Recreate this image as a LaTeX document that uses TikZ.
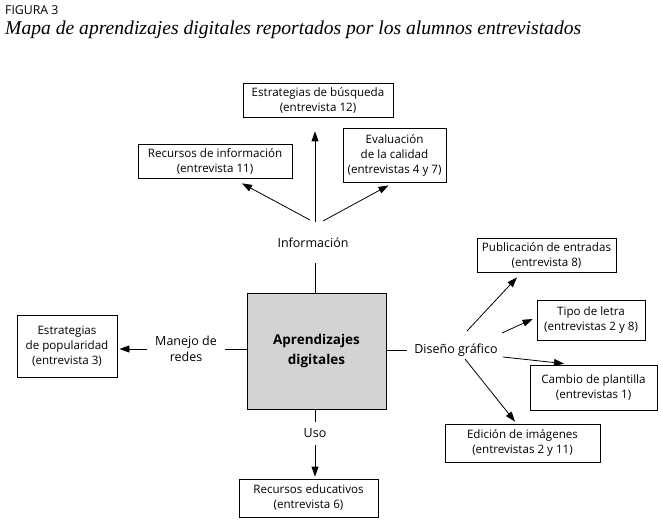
\documentclass[tikz,border=0pt]{standalone}
\usepackage{fontspec}
\setmainfont{Open Sans}
\newfontfamily\titlefont{Liberation Serif}
\usetikzlibrary{arrows.meta,calc}
\begin{document}
\begin{tikzpicture}[x=1pt,y=-1pt,
  box/.style={draw, line width=0.8pt, align=center, inner sep=0pt, font=\fontsize{11.6}{15}\selectfont},
  lbl/.style={align=center, inner sep=0pt, font=\fontsize{12.5}{16}\selectfont},
  arr/.style={line width=0.8pt, -{Triangle[length=10pt,width=7pt]}},
  ln/.style={line width=0.8pt}]
\useasboundingbox (0,0) rectangle (661,521);
% headings
\node[anchor=base west, inner sep=0pt, font=\fontsize{12.3}{14}\selectfont] (fig) at (5,15) {FIGURA 3};
\node[anchor=base west, inner sep=0pt, font=\titlefont\itshape\fontsize{19.6}{22}\selectfont] (title) at (5,35) {Mapa de aprendizajes digitales reportados por los alumnos entrevistados};
% central box
\node[draw, line width=0.8pt, fill={rgb,255:red,210;green,211;blue,213}, minimum width=139pt, minimum height=116pt, align=center, font=\fontsize{13.5}{20}\selectfont\bfseries] (main) at (316.5,351) {Aprendizajes\\digitales};
% boxes
\node[box, minimum width=150pt, minimum height=34pt] (busq) at (318,100) {Estrategias de búsqueda\\(entrevista 12)};
\node[box, minimum width=154pt, minimum height=34pt] (recinf) at (215,161) {Recursos de información\\(entrevista 11)};
\node[box, minimum width=103pt, minimum height=54pt] (eval) at (394.5,155) {Evaluación\\de la calidad\\(entrevistas 4 y 7)};
\node[box, minimum width=139pt, minimum height=34pt] (pub) at (546.5,255) {Publicación de entradas\\(entrevista 8)};
\node[box, minimum width=108pt, minimum height=40pt] (tipo) at (591,320) {Tipo de letra\\(entrevistas 2 y 8)};
\node[box, minimum width=127pt, minimum height=45pt] (camb) at (593.5,387.5) {Cambio de plantilla\\(entrevistas 1)};
\node[box, minimum width=155pt, minimum height=38pt] (edic) at (522.5,443) {Edición de imágenes\\(entrevistas 2 y 11)};
\node[box, minimum width=100pt, minimum height=62pt] (pop) at (67,346) {Estrategias\\de popularidad\\(entrevista 3)};
\node[box, minimum width=139pt, minimum height=38pt] (receduc) at (308.5,498) {Recursos educativos\\(entrevista 6)};
% labels
\node[lbl] (info) at (313,243) {Información};
\node[lbl] (manejo) at (186,349) {Manejo de\\redes};
\node[lbl] (diseno) at (456,350) {Diseño gráfico};
\node[lbl] (uso) at (315,433) {Uso};
% hub coordinates
\coordinate (infoTop) at (315,263);
\coordinate (manR) at (225,349);
\coordinate (disL) at (407,350);
\coordinate (usoTop) at (315,422);
% connectors
\draw[ln] (main.north -| infoTop) -- (infoTop);
\draw[arr] ($(info)+(-3,-23)$) -- ($(recinf.south)+(27,5)$);
\draw[arr] ($(info)+(2,-21)$) -- ($(busq.south)+(-3,14)$);
\draw[arr] ($(info)+(10,-22)$) -- ($(eval.south)+(-6,3)$);
\draw[ln] (main.west |- manR) -- (manR);
\draw[arr] ($(manejo.west)+(-8,0)$) -- ($(pop.east)+(2,3)$);
\draw[ln] (main.east |- disL) -- (disL);
\draw[arr] ($(diseno)+(11,-19)$) -- ($(pub.south)+(-29.5,5)$);
\draw[arr] ($(diseno)+(46,-17)$) -- ($(tipo.west)+(-4,-1)$);
\draw[arr] ($(diseno)+(47,7)$) -- ($(camb.north)+(-29.5,-1)$);
\draw[arr] ($(diseno)+(9,9)$) -- ($(edic.north)+(-7.5,-2)$);
\draw[ln] (main.south -| usoTop) -- (usoTop);
\draw[arr] ($(uso)+(0,12)$) -- ($(receduc.north)+(6.5,-2)$);
\end{tikzpicture}
\end{document}
